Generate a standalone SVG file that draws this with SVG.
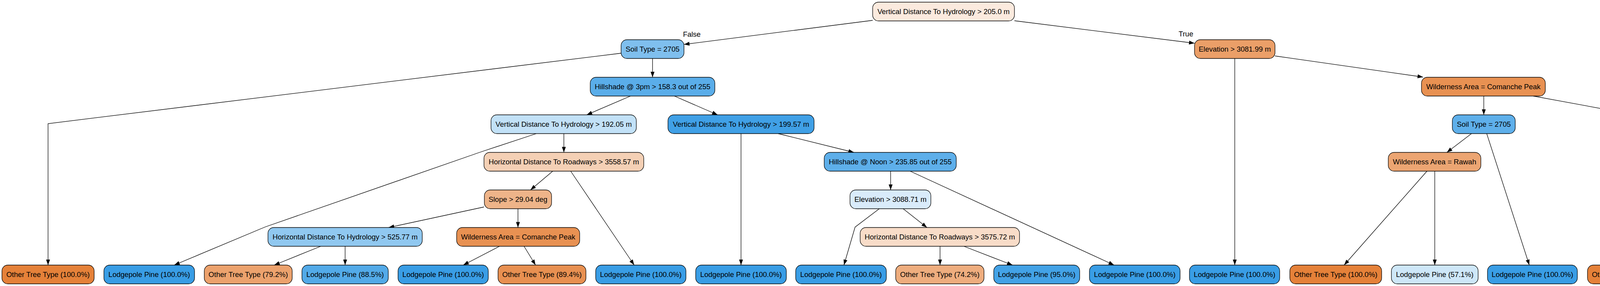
<svg xmlns="http://www.w3.org/2000/svg" width="6083" height="731" viewBox="0 0 6083 731">
<style>
.n rect{stroke:#000;stroke-width:1.3}
text{font-family:"Liberation Sans",Arial,Helvetica,sans-serif;font-size:18.5px;fill:#000;text-anchor:middle}
.e path{fill:none;stroke:#000;stroke-width:1.3;marker-end:url(#arr)}
</style>
<defs>
<marker id="arr" markerUnits="userSpaceOnUse" markerWidth="14" markerHeight="10" refX="14" refY="5" orient="auto" overflow="visible">
<path d="M0,0 L14,5 L0,10 z" fill="#000"/>
</marker>
</defs>
<rect width="6083" height="731" fill="#fff"/>
<g id="connectors" class="e">
<path d="M2234,52 L1751,113.5"/>
<path d="M2597,53 L3058,110.5"/>
<path d="M1590,136 L123,316 L123,677.5"/>
<path d="M1670.5,149.5 L1670.5,197.5"/>
<path d="M1614,245.5 L1502,293.5"/>
<path d="M1726.5,245.5 L1837,293.5"/>
<path d="M1373,341.5 L1232,388 L679,580 L446,677.5"/>
<path d="M1443.5,341.5 L1443.5,389.5"/>
<path d="M1415,437.5 L1358,485.5"/>
<path d="M1461,437.5 L1623.5,677.5"/>
<path d="M1239,529 L995,581.5"/>
<path d="M1326,533.5 L1326,581.5"/>
<path d="M821,629.5 L702,677.5"/>
<path d="M883.5,629.5 L883.5,677.5"/>
<path d="M1278.6,629.5 L1186,677.5"/>
<path d="M1341.6,629.5 L1371,677.5"/>
<path d="M1897,341.5 L1897,677.5"/>
<path d="M1992,341.5 L2186,389.5"/>
<path d="M2280,437.5 L2280,485.5"/>
<path d="M2330,437.5 L2852,677.5"/>
<path d="M2251,533.5 L2189,580.5 L2160.5,677.5"/>
<path d="M2312,533.5 L2373,581.5"/>
<path d="M2406.5,629.5 L2406.5,677.5"/>
<path d="M2467.6,629.5 L2592,677.5"/>
<path d="M3161,149.5 L3161,677.5"/>
<path d="M3264,143 L3643,197"/>
<path d="M3798.5,245.5 L3798.5,293.5"/>
<path d="M3925,245.5 L4186,293.5"/>
<path d="M3767,341.5 L3704,389.5"/>
<path d="M3806,341.5 L3915,677.5"/>
<path d="M3653,437.5 L3441,677.5"/>
<path d="M3673,437.5 L3673,677.5"/>
<path d="M4311.5,341.5 L4311.5,389.5"/>
<path d="M4516,339 L5053,392"/>
<path d="M4288.5,437.5 L4242,485 L4191,677.5"/>
<path d="M4343.6,437.5 L4408,485.5"/>
<path d="M4440,533.5 L4440,677.5"/>
<path d="M4472,533.5 L4666.6,677.5"/>
<path d="M5239.5,437.5 L5239.5,485.5"/>
<path d="M5354.7,437.5 L5597,485.5"/>
<path d="M5230,533.5 L5212,581.5"/>
<path d="M5291.7,533.5 L5400,580.5 L5441,677.5"/>
<path d="M5201,629.5 L5201,677.5"/>
<path d="M5139,629.5 L5018,677.5"/>
<path d="M5713,533.5 L5713,677.5"/>
<path d="M5744,533.5 L5935,677.5"/>
<text x="1771" y="93.5">False</text>
<text x="3036" y="92.5">True</text>
</g>
<g id="n0" class="n"><rect x="2234" y="5.5" width="363" height="48" rx="15" fill="#fbeade"/><text x="2415.5" y="36">Vertical Distance To Hydrology &gt; 205.0 m</text></g>
<g id="n1" class="n"><rect x="1590" y="101.5" width="161" height="48" rx="15" fill="#7fbfee"/><text x="1670.5" y="132">Soil Type = 2705</text></g>
<g id="n2" class="n"><rect x="3058" y="101.5" width="206" height="48" rx="15" fill="#eb9f68"/><text x="3161" y="132">Elevation &gt; 3081.99 m</text></g>
<g id="n3" class="n"><rect x="1511" y="197.5" width="319" height="48" rx="15" fill="#5aade9"/><text x="1670.5" y="228">Hillshade @ 3pm &gt; 158.3 out of 255</text></g>
<g id="n4" class="n"><rect x="3639" y="197.5" width="317" height="48" rx="15" fill="#e89152"/><text x="3797.5" y="228">Wilderness Area = Comanche Peak</text></g>
<g id="n5" class="n"><rect x="1257" y="293.5" width="372" height="48" rx="15" fill="#c2e1f7"/><text x="1443" y="324">Vertical Distance To Hydrology &gt; 192.05 m</text></g>
<g id="n6" class="n"><rect x="1710" y="293.5" width="374" height="48" rx="15" fill="#40a0e6"/><text x="1897" y="324">Vertical Distance To Hydrology &gt; 199.57 m</text></g>
<g id="n7" class="n"><rect x="3718" y="293.5" width="161" height="48" rx="15" fill="#5eafea"/><text x="3798.5" y="324">Soil Type = 2705</text></g>
<g id="n8" class="n"><rect x="4107" y="293.5" width="410" height="48" rx="15" fill="#e78b48"/><text x="4312" y="324">Horizontal Distance To Roadways &gt; 3638.09 m</text></g>
<g id="n9" class="n"><rect x="1239" y="389.5" width="409" height="48" rx="15" fill="#f4d0b5"/><text x="1443.5" y="420">Horizontal Distance To Roadways &gt; 3558.57 m</text></g>
<g id="n10" class="n"><rect x="2110" y="389.5" width="338" height="48" rx="15" fill="#5eafea"/><text x="2279" y="420">Hillshade @ Noon &gt; 235.85 out of 255</text></g>
<g id="n11" class="n"><rect x="3554" y="389.5" width="237" height="48" rx="15" fill="#eca572"/><text x="3672.5" y="420">Wilderness Area = Rawah</text></g>
<g id="n12" class="n"><rect x="4147" y="389.5" width="329" height="48" rx="15" fill="#e6853f"/><text x="4311.5" y="420">Hillshade @ 3pm &gt; 164.61 out of 255</text></g>
<g id="n13" class="n"><rect x="5053" y="389.5" width="373" height="48" rx="15" fill="#b7dbf6"/><text x="5239.5" y="420">Vertical Distance To Hydrology &gt; 218.58 m</text></g>
<g id="n14" class="n"><rect x="1240" y="485.5" width="172" height="48" rx="15" fill="#eeb489"/><text x="1326" y="516">Slope &gt; 29.04 deg</text></g>
<g id="n15" class="n"><rect x="2176" y="485.5" width="207" height="48" rx="15" fill="#d9ebfa"/><text x="2279.5" y="516">Elevation &gt; 3088.71 m</text></g>
<g id="n16" class="n"><rect x="4254" y="485.5" width="373" height="48" rx="15" fill="#fcf1ea"/><text x="4440.5" y="516">Vertical Distance To Hydrology &gt; 216.19 m</text></g>
<g id="n17" class="n"><rect x="5035" y="485.5" width="409" height="48" rx="15" fill="#5caeea"/><text x="5239.5" y="516">Horizontal Distance To Roadways &gt; 3694.22 m</text></g>
<g id="n18" class="n"><rect x="5509" y="485.5" width="408" height="48" rx="15" fill="#e78c4b"/><text x="5713" y="516">Horizontal Distance To Roadways &gt; 3803.37 m</text></g>
<g id="n19" class="n"><rect x="686" y="581.5" width="395" height="48" rx="15" fill="#90c8f0"/><text x="883.5" y="612">Horizontal Distance To Hydrology &gt; 525.77 m</text></g>
<g id="n20" class="n"><rect x="1169" y="581.5" width="315" height="48" rx="15" fill="#e89152"/><text x="1326.5" y="612">Wilderness Area = Comanche Peak</text></g>
<g id="n21" class="n"><rect x="2202" y="581.5" width="408" height="48" rx="15" fill="#f8dcc8"/><text x="2406" y="612">Horizontal Distance To Roadways &gt; 3575.72 m</text></g>
<g id="n22" class="n"><rect x="5014" y="581.5" width="373" height="48" rx="15" fill="#b7dbf6"/><text x="5200.5" y="612">Vertical Distance To Hydrology &gt; 210.48 m</text></g>
<g id="l1" class="n"><rect x="5" y="677.5" width="236" height="48" rx="15" fill="#e58139"/><text x="123" y="708">Other Tree Type (100.0%)</text></g>
<g id="l2" class="n"><rect x="266" y="677.5" width="232" height="48" rx="15" fill="#399de5"/><text x="382" y="708">Lodgepole Pine (100.0%)</text></g>
<g id="l3" class="n"><rect x="523" y="677.5" width="225" height="48" rx="15" fill="#eca26d"/><text x="635.5" y="708">Other Tree Type (79.2%)</text></g>
<g id="l4" class="n"><rect x="773" y="677.5" width="221" height="48" rx="15" fill="#53aae8"/><text x="883.5" y="708">Lodgepole Pine (88.5%)</text></g>
<g id="l5" class="n"><rect x="1019" y="677.5" width="231" height="48" rx="15" fill="#399de5"/><text x="1134.5" y="708">Lodgepole Pine (100.0%)</text></g>
<g id="l6" class="n"><rect x="1275" y="677.5" width="225" height="48" rx="15" fill="#e89051"/><text x="1387.5" y="708">Other Tree Type (89.4%)</text></g>
<g id="l7" class="n"><rect x="1525" y="677.5" width="231" height="48" rx="15" fill="#399de5"/><text x="1640.5" y="708">Lodgepole Pine (100.0%)</text></g>
<g id="l8" class="n"><rect x="1781" y="677.5" width="232" height="48" rx="15" fill="#399de5"/><text x="1897" y="708">Lodgepole Pine (100.0%)</text></g>
<g id="l9" class="n"><rect x="2037" y="677.5" width="232" height="48" rx="15" fill="#399de5"/><text x="2153" y="708">Lodgepole Pine (100.0%)</text></g>
<g id="l10" class="n"><rect x="2293" y="677.5" width="226" height="48" rx="15" fill="#eead7e"/><text x="2406" y="708">Other Tree Type (74.2%)</text></g>
<g id="l11" class="n"><rect x="2544" y="677.5" width="220" height="48" rx="15" fill="#43a2e6"/><text x="2654" y="708">Lodgepole Pine (95.0%)</text></g>
<g id="l12" class="n"><rect x="2789" y="677.5" width="232" height="48" rx="15" fill="#399de5"/><text x="2905" y="708">Lodgepole Pine (100.0%)</text></g>
<g id="l13" class="n"><rect x="3045" y="677.5" width="231" height="48" rx="15" fill="#399de5"/><text x="3160.5" y="708">Lodgepole Pine (100.0%)</text></g>
<g id="l14" class="n"><rect x="3302" y="677.5" width="235" height="48" rx="15" fill="#e58139"/><text x="3419.5" y="708">Other Tree Type (100.0%)</text></g>
<g id="l15" class="n"><rect x="3562" y="677.5" width="222" height="48" rx="15" fill="#cee7f8"/><text x="3673" y="708">Lodgepole Pine (57.1%)</text></g>
<g id="l16" class="n"><rect x="3808" y="677.5" width="230" height="48" rx="15" fill="#399de5"/><text x="3923" y="708">Lodgepole Pine (100.0%)</text></g>
<g id="l17" class="n"><rect x="4064" y="677.5" width="236" height="48" rx="15" fill="#e58139"/><text x="4182" y="708">Other Tree Type (100.0%)</text></g>
<g id="l18" class="n"><rect x="4325" y="677.5" width="231" height="48" rx="15" fill="#399de5"/><text x="4440.5" y="708">Lodgepole Pine (100.0%)</text></g>
<g id="l19" class="n"><rect x="4581" y="677.5" width="235" height="48" rx="15" fill="#e58139"/><text x="4698.5" y="708">Other Tree Type (100.0%)</text></g>
<g id="l20" class="n"><rect x="4842" y="677.5" width="221" height="48" rx="15" fill="#41a1e6"/><text x="4952.5" y="708">Lodgepole Pine (96.0%)</text></g>
<g id="l21" class="n"><rect x="5088" y="677.5" width="226" height="48" rx="15" fill="#eeab7b"/><text x="5201" y="708">Other Tree Type (75.0%)</text></g>
<g id="l22" class="n"><rect x="5338" y="677.5" width="232" height="48" rx="15" fill="#399de5"/><text x="5454" y="708">Lodgepole Pine (100.0%)</text></g>
<g id="l23" class="n"><rect x="5595" y="677.5" width="236" height="48" rx="15" fill="#e58139"/><text x="5713" y="708">Other Tree Type (100.0%)</text></g>
<g id="l24" class="n"><rect x="5856" y="677.5" width="220" height="48" rx="15" fill="#9ccef2"/><text x="5966" y="708">Lodgepole Pine (66.7%)</text></g>
</svg>
